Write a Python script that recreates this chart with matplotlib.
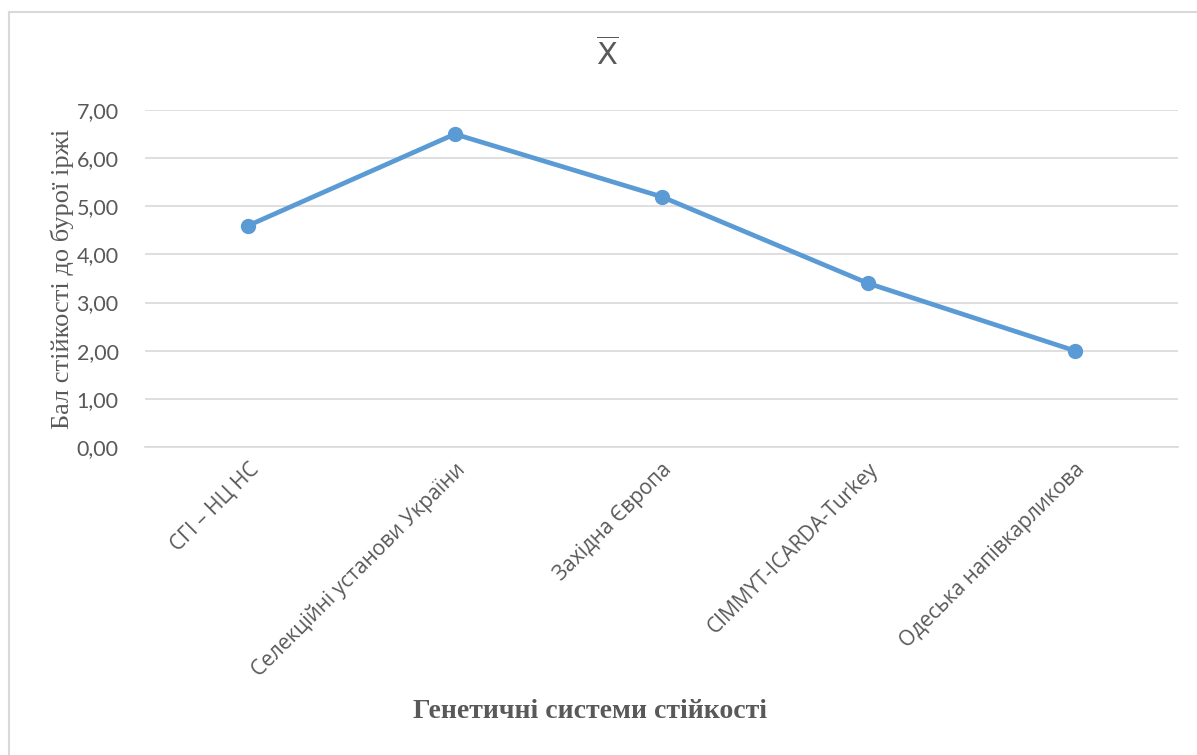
import matplotlib.pyplot as plt
from matplotlib.lines import Line2D

# Дані: середній бал стійкості до бурої іржі за генетичними системами
groups = ['СГІ – НЦ НС', 'Селекційні установи України', 'Західна Європа',
          'CIMMYT-ICARDA-Turkey', 'Одеська напівкарликова']
scores = [4.6, 6.5, 5.2, 3.4, 2.0]
yticks = [0, 1, 2, 3, 4, 5, 6, 7]

W, H = 1197, 755
fig = plt.figure(figsize=(W / 100, H / 100), dpi=100)

# рамка діаграми (видно лише верхню та ліву сторони)
fig.add_artist(Line2D([9 / W, 9 / W], [0, 1 - 12 / H], transform=fig.transFigure,
                      color='#d9d9d9', lw=1.5))
fig.add_artist(Line2D([9 / W, 1], [1 - 12 / H, 1 - 12 / H], transform=fig.transFigure,
                      color='#d9d9d9', lw=1.5))

left, right, top, bottom = 145, 1178, 110, 447
ax = fig.add_axes([left / W, 1 - bottom / H, (right - left) / W, (bottom - top) / H])

x = list(range(len(groups)))
ax.plot(x, scores, color='#5b9bd5', lw=3.4, marker='o', markersize=10,
        markerfacecolor='#5b9bd5', markeredgecolor='#5b9bd5', solid_capstyle='round',
        zorder=3)

ax.set_xlim(-0.5, len(groups) - 0.5)
ax.set_ylim(0, 7)
ax.set_yticks(yticks)
ax.set_yticklabels([f'{v:.2f}'.replace('.', ',') for v in yticks],
                   fontsize=15.5, color='#595959', family='Lato')
ax.yaxis.grid(True, color='#d9d9d9', lw=1.2)
ax.set_axisbelow(True)
ax.tick_params(axis='y', length=0, pad=19)
ax.tick_params(axis='x', length=0, pad=9)
for s in ax.spines.values():
    s.set_visible(False)
ax.spines['bottom'].set_visible(True)
ax.spines['bottom'].set_color('#d9d9d9')
ax.spines['bottom'].set_linewidth(1.2)

ax.set_xticks(x)
ax.set_xticklabels(groups, rotation=45, ha='right', rotation_mode='anchor',
                   fontsize=15, color='#595959', family='Open Sans')

ax.set_ylabel('Бал стійкості до бурої іржі', fontsize=19, color='#595959',
              family='Liberation Serif', labelpad=2)
fig.text(590 / W, 1 - 711 / H, 'Генетичні системи стійкості', ha='center', va='center',
         fontsize=20, fontweight='bold', color='#595959', family='Liberation Serif')

fig.text(607 / W, 1 - 55 / H, r'$\overline{\mathrm{X}}$', ha='center', va='center',
         fontsize=22, color='#595959')

fig.savefig('out.png', dpi=100)
